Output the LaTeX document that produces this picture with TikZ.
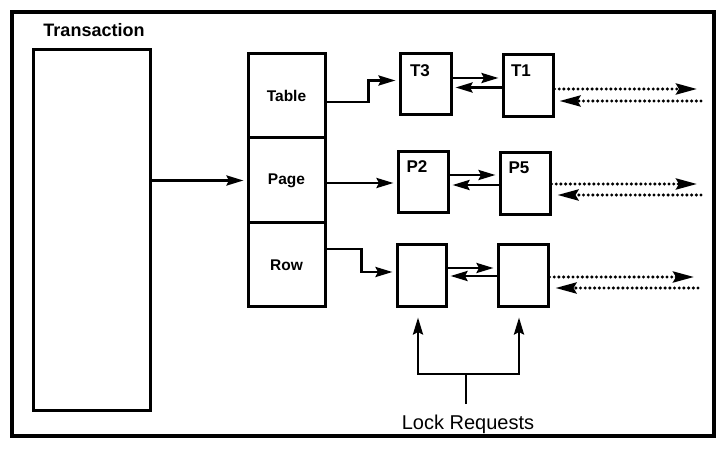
\documentclass[tikz,border=0pt]{standalone}
\usepackage{fontspec}
\setmainfont{Liberation Sans}
\usetikzlibrary{arrows.meta}
\begin{document}
\begin{tikzpicture}[x=1pt,y=-1pt,
  box/.style={draw,line width=3pt,rectangle,inner sep=0pt},
  conn/.style={line width=2.8pt,-{Stealth[length=17pt,width=10pt,inset=2.5pt]},shorten >=3pt},
  dots/.style={line width=3.4pt,line cap=round,dash pattern=on 0pt off 4.7pt,-{Stealth[length=21pt,width=11pt,inset=3pt]}},
  lbl/.style={font=\bfseries\fontsize{15.5}{17}\selectfont},
  tl/.style={font=\bfseries\fontsize{17}{19}\selectfont,inner sep=0pt}]
\useasboundingbox (0,0) rectangle (718,449);
\draw[line width=4.5pt] (12,12) rectangle (714,436);
\node[font=\bfseries\fontsize{18}{21}\selectfont] (ttl) at (94,30) {Transaction};
\node[box,minimum width=117pt,minimum height=360pt] (trans) at (91.5,230) {};
% lock table column
\node[box,minimum width=77pt,minimum height=84pt,lbl] (tbl) at (286.5,96) {Table};
\node[box,minimum width=77pt,minimum height=85pt,lbl] (pg) at (286.5,180.5) {Page};
\node[box,minimum width=77pt,minimum height=84pt,lbl] (rw) at (286.5,265) {Row};
% lock chains
\node[box,minimum width=51pt,minimum height=61pt] (t3) at (425.5,84.5) {};
\node[box,minimum width=50pt,minimum height=62pt] (t1) at (528,86) {};
\node[box,minimum width=50pt,minimum height=61pt] (p2) at (423,182.5) {};
\node[box,minimum width=50pt,minimum height=62pt] (p5) at (525,184) {};
\node[box,minimum width=49pt,minimum height=62pt] (r1) at (421.5,276) {};
\node[box,minimum width=50pt,minimum height=62pt] (r2) at (523,276) {};
\node[tl] (t3t) at (420,71) {T3};
\node[tl] (t1t) at (521,71) {T1};
\node[tl] (p2t) at (417,167) {P2};
\node[tl] (p5t) at (519,168) {P5};
% connectors
\draw[conn] (trans.east |- pg.west) -- (pg.west);
\draw[conn] ([yshift=-6pt]tbl.east) -- ++(42,0) |- ([yshift=4pt]t3.west);
\draw[conn] ([yshift=-2.5pt]pg.east) -- ([yshift=-2.5pt]pg.east -| p2.west);
\draw[conn] ([yshift=16pt]rw.east) -- ++(35,0) |- ([yshift=4pt]r1.west);
% chain links
\draw[conn] ([yshift=6.5pt]t3.east) -- ([yshift=6.5pt]t3.east -| t1.west);
\draw[conn] ([yshift=-1.5pt]t1.west) -- ([yshift=-1.5pt]t1.west -| t3.east);
\draw[conn] ([yshift=7.5pt]p2.east) -- ([yshift=7.5pt]p2.east -| p5.west);
\draw[conn] ([yshift=-1pt]p5.west) -- ([yshift=-1pt]p5.west -| p2.east);
\draw[conn] ([yshift=8pt]r1.east) -- ([yshift=8pt]r1.east -| r2.west);
\draw[conn] (r2.west) -- (r2.west -| r1.east);
% dotted continuation
\coordinate (a1) at (697,89);  \coordinate (b1) at (701,101);
\coordinate (a2) at (697,184); \coordinate (b2) at (701,195);
\coordinate (a3) at (694,277); \coordinate (b3) at (698,288);
\draw[dots] (t1.east |- a1) -- (a1);
\draw[dots] (b1) -- ([xshift=5pt]t1.east |- b1);
\draw[dots] (p5.east |- a2) -- (a2);
\draw[dots] (b2) -- ([xshift=6pt]p5.east |- b2);
\draw[dots] (r2.east |- a3) -- (a3);
\draw[dots] (b3) -- ([xshift=6pt]r2.east |- b3);
% lock requests
\node[font=\fontsize{20}{23}\selectfont] (lr) at (468,424) {Lock Requests};
\coordinate (stem) at (466,404);
\coordinate (jn) at (466,374);
\draw[line width=2.8pt] (stem) -- (jn);
\draw[conn,shorten >=9pt,line join=miter] (jn) -| ([xshift=-3.5pt]r1.south);
\draw[conn,shorten >=9pt,line join=miter] (jn) -| ([xshift=-4pt]r2.south);
\end{tikzpicture}
\end{document}
